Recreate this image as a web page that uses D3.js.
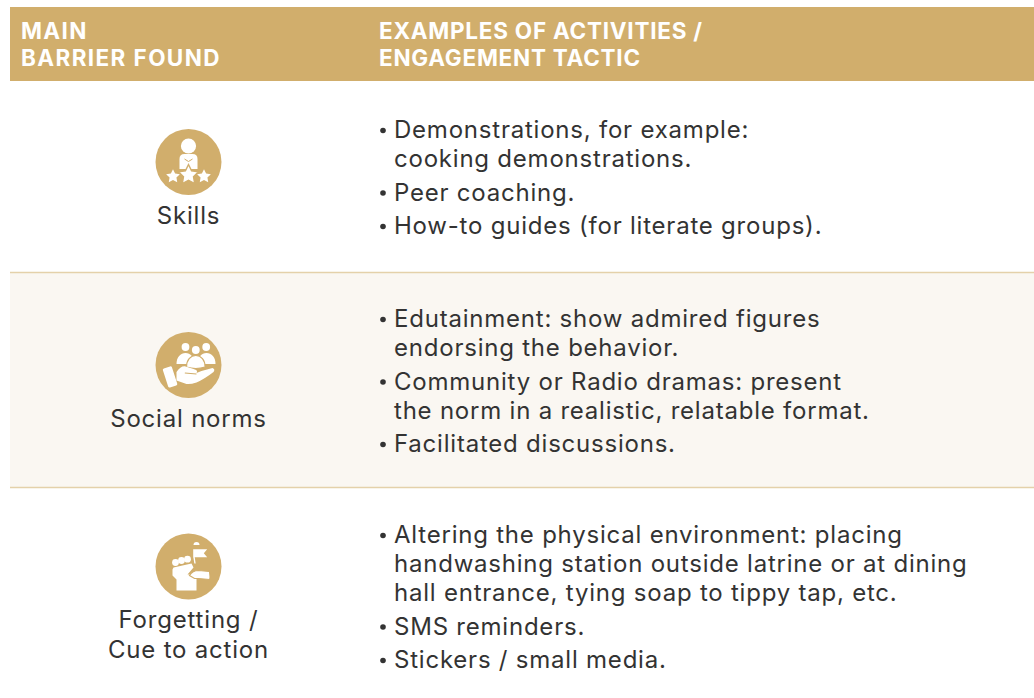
<!DOCTYPE html>
<html>
<head>
<meta charset="utf-8">
<script src="https://cdnjs.cloudflare.com/ajax/libs/d3/7.8.5/d3.min.js"></script>
<style>
  html, body { margin: 0; padding: 0; background: #fff; }
  svg { display: block; }
  text { font-family: "Inter", "Open Sans", sans-serif; }
</style>
</head>
<body>
<div id="chart"></div>
<script>
var headerLeft = ["MAIN", "BARRIER FOUND"];
var headerRight = ["EXAMPLES OF ACTIVITIES /", "ENGAGEMENT TACTIC"];
var barriers = ["Skills", "Social norms", "Forgetting / Cue to action"];
var barrierLines = [["Skills"], ["Social norms"], ["Forgetting /", "Cue to action"]];
var activities = [
  [["Demonstrations, for example:", "cooking demonstrations."], ["Peer coaching."], ["How-to guides (for literate groups)."]],
  [["Edutainment: show admired figures", "endorsing the behavior."], ["Community or Radio dramas: present", "the norm in a realistic, relatable format."], ["Facilitated discussions."]],
  [["Altering the physical environment: placing", "handwashing station outside latrine or at dining", "hall entrance, tying soap to tippy tap, etc."], ["SMS reminders."], ["Stickers / small media."]]
];

var gold = "#d1ae6c", rule = "#e4d1aa", band = "#faf7f2", ink = "#333333";
var width = 1034, height = 698;
var lineStep = 29, bulletStep = 33.5;

var svg = d3.select("#chart").append("svg").attr("width", width).attr("height", height);

// row placement
var rowTop = d3.scaleOrdinal().domain(barriers).range([81, 272, 487]);
var iconY = d3.scaleOrdinal().domain(barriers).range([162, 365, 566.5]);
var labelY = d3.scaleOrdinal().domain(barriers).range([224, 427, 628]);
var textY = d3.scaleOrdinal().domain(barriers).range([138, 327, 543]);

function star(g, cx, cy, R, edge) {
  var pts = d3.range(10).map(function(i) {
    var rad = i % 2 ? R * 0.5 : R, a = -Math.PI / 2 + i * Math.PI / 5;
    return [cx + rad * Math.cos(a), cy + rad * Math.sin(a)];
  });
  var p = g.append("polygon").attr("points", pts.join(" ")).attr("fill", "#fff");
  if (edge) p.attr("stroke", gold).attr("stroke-width", edge);
}

function blob(g, d, edge) {
  var p = g.append("path").attr("d", d).attr("fill", "#fff");
  if (edge) p.attr("stroke", gold).attr("stroke-width", edge);
}

// the three little pictograms, drawn round the middle of each disc
var drawIcon = [
  function(g) {
    g.append("circle").attr("cy", -16).attr("r", 7.6).attr("fill", "#fff");
    blob(g, "M-9,7 L-9,-3 Q-9,-8 -4,-8 L4,-8 Q9,-8 9,-3 L9,7 Z");
    g.append("path").attr("d", "M-4,-3 L0,-0.5 L4,-3").attr("fill", "none").attr("stroke", gold).attr("stroke-width", 1);
    star(g, 0, 13, 10.5, 1.4);
    star(g, -15.5, 14.5, 7.2);
    star(g, 15.5, 14.5, 7.2);
  },
  function(g) {
    g.append("circle").attr("cx", -3).attr("cy", -18).attr("r", 3.9).attr("fill", "#fff");
    g.append("circle").attr("cx", 7.3).attr("cy", -15).attr("r", 3.9).attr("fill", "#fff");
    g.append("circle").attr("cx", 17.7).attr("cy", -18).attr("r", 3.9).attr("fill", "#fff");
    blob(g, "M-12,-1 C-12,-8 -8,-12 -3,-12 C2,-12 6,-8 6,-1 Z");
    blob(g, "M9,-1 C9,-8 13,-12 18,-12 C23,-12 27,-8 27,-1 Z");
    blob(g, "M-2,2 C-2,-5 2,-9.5 7.3,-9.5 C12.6,-9.5 16.6,-5 16.6,2 Q7.3,5 -2,2 Z", 1.2);
    g.append("rect").attr("x", -4.5).attr("y", -10).attr("width", 9.5).attr("height", 20).attr("rx", 1.5)
      .attr("fill", "#fff").attr("transform", "translate(-18.7,12) rotate(-18)");
    blob(g, "M-12,7 Q-8,1 -3.7,1.3 L5,4 Q10,5 8,8 L13,6 L24,3 Q27,4 25,7 Q16,14 8,17.5 Q2,19.5 -2,19 L-12,15.5 Z");
    g.append("path").attr("d", "M-3.7,8 L8,9").attr("fill", "none").attr("stroke", gold).attr("stroke-width", 1.1);
  },
  function(g) {
    blob(g, "M4.7,-17.3 L18.7,-17.3 L15.3,-13.3 L18.7,-9.3 L4.7,-9.3 Z");
    blob(g, "M5,-21.5 A3,3 0 0 1 11,-21.5 Z");
    g.append("line").attr("x1", 5.5).attr("y1", -9.5).attr("x2", 6.5).attr("y2", -3)
      .attr("stroke", "#fff").attr("stroke-width", 1.4);
    g.append("circle").attr("cx", -13).attr("cy", -4).attr("r", 3.4).attr("fill", "#fff");
    g.append("circle").attr("cx", -7).attr("cy", -6).attr("r", 3.4).attr("fill", "#fff");
    g.append("circle").attr("cx", -1).attr("cy", -7.3).attr("r", 3.4).attr("fill", "#fff");
    blob(g, "M-16,3 L-15,1 L3,-3 L5,1 L-1,8 L8,8 L8,24 L-12,24 L-12,13 L-16,9 Z");
    blob(g, "M1,9 Q4,4 10,4 L21,5 Q22,12 21,13 L10,12 L6,12 Z", 1.2);
  }
];

svg.append("rect").attr("x", 10).attr("y", 7).attr("width", 1024).attr("height", 74).attr("fill", gold);
svg.append("rect").attr("x", 10).attr("y", rowTop(barriers[1])).attr("width", 1024)
  .attr("height", rowTop(barriers[2]) - rowTop(barriers[1])).attr("fill", band);
svg.selectAll("line.rule").data(barriers.slice(1)).enter().append("line")
  .attr("class", "rule")
  .attr("x1", 10).attr("x2", 1034)
  .attr("y1", function(d) { return rowTop(d) + 0.5; })
  .attr("y2", function(d) { return rowTop(d) + 0.5; })
  .attr("stroke", rule).attr("stroke-width", 1.5);

function header(lines, x, spacing) {
  svg.selectAll(null).data(lines).enter().append("text")
    .attr("x", x)
    .attr("y", function(d, i) { return 39 + i * 27; })
    .attr("fill", "#fff").attr("font-size", 22.5).attr("font-weight", 700)
    .attr("letter-spacing", spacing)
    .text(function(d) { return d; });
}
header(headerLeft, 21, 1.4);
header(headerRight, 379, 0.75);

barriers.forEach(function(name, r) {
  svg.selectAll(null).data(barrierLines[r]).enter().append("text")
    .attr("x", 188.5)
    .attr("y", function(d, i) { return labelY(name) + i * 30; })
    .attr("text-anchor", "middle")
    .attr("fill", ink).attr("font-size", 24).attr("letter-spacing", 0.8)
    .text(function(d) { return d; });

  var y = textY(name);
  activities[r].forEach(function(item) {
    svg.append("circle").attr("cx", 383).attr("cy", y - 7.5).attr("r", 2.8).attr("fill", ink);
    item.forEach(function(line, i) {
      svg.append("text").attr("x", 394).attr("y", y + i * lineStep)
        .attr("fill", ink).attr("font-size", 24).attr("letter-spacing", 0.78)
        .text(line);
    });
    y += (item.length - 1) * lineStep + bulletStep;
  });

  var g = svg.append("g").attr("transform", "translate(188.5," + iconY(name) + ")");
  g.append("circle").attr("r", 33).attr("fill", gold);
  drawIcon[r](g);
});
</script>
</body>
</html>
